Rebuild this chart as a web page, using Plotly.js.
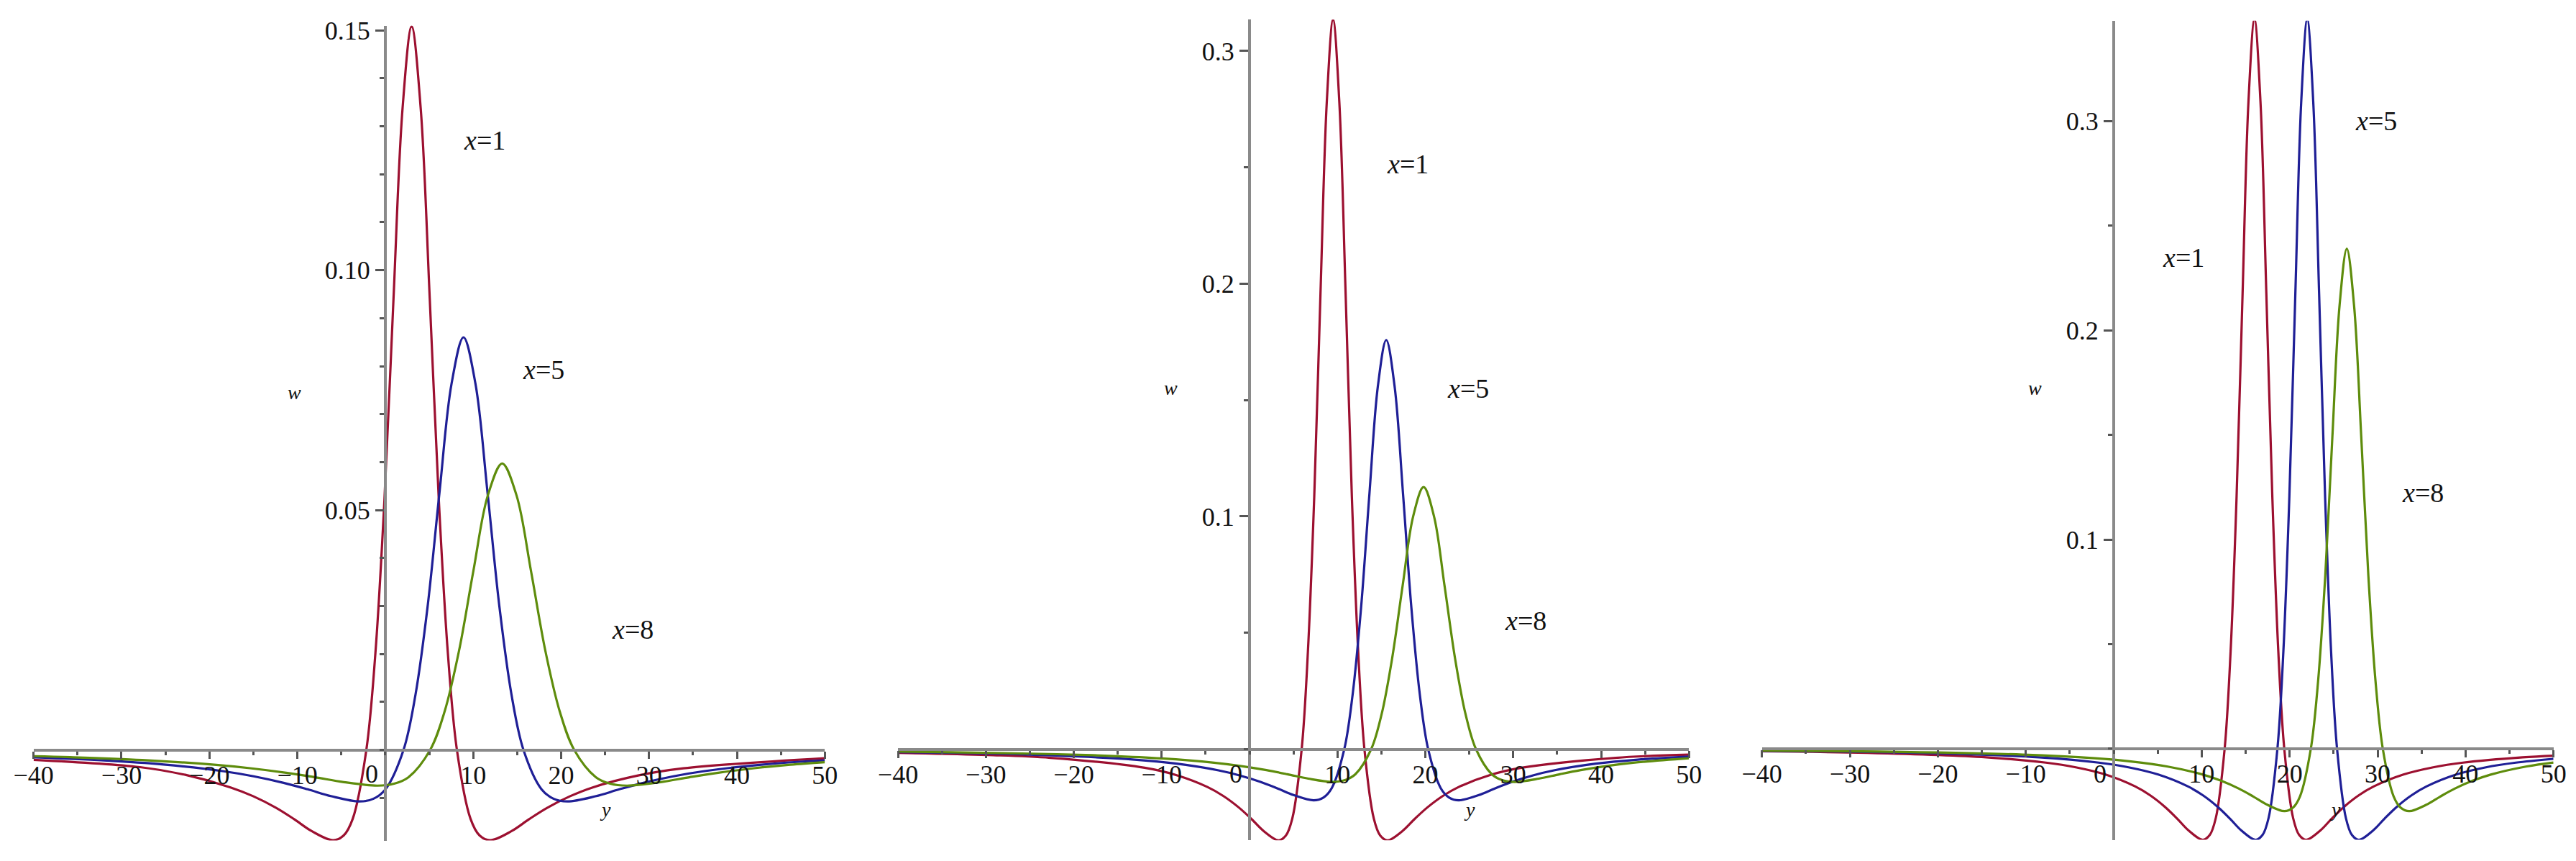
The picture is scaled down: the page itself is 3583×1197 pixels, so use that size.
<!DOCTYPE html>
<html>
<head>
<meta charset="utf-8">
<script src="https://cdn.plot.ly/plotly-3.0.1.min.js"></script>
<style>html,body{margin:0;padding:0;background:#fff;}#chart{width:3583px;height:1197px;}</style>
</head>
<body>
<div id="chart"></div>
<script>
// ---------- data ----------
const seriesNames = ["x=1", "x=5", "x=8"];
const xTickVals = [-40, -30, -20, -10, 10, 20, 30, 40, 50];
const xTickText = ["\u221240", "\u221230", "\u221220", "\u221210", "10", "20", "30", "40", "50"];
const p1TickVals = [0.05, 0.10, 0.15];
const p1TickText = ["0.05", "0.10", "0.15"];
const p23TickVals = [0.1, 0.2, 0.3];
const p23TickText = ["0.1", "0.2", "0.3"];

// panel 1
const p1_red_y = [-40, -27.9, -22.75, -17.6, -15.03, -12.45, -10.39, -8.33, -5.92, -4.73, -3.70, -2.15, -1.12, -0.09, 0.94, 1.97, 3.0, 4.03, 5.06, 6.09, 7.12, 8.15, 9.70, 10.73, 11.92, 14.33, 16.39, 18.45, 21.03, 23.6, 28.75, 33.9, 50];
const p1_red_w = [-0.00207, -0.0036, -0.0052, -0.007827, -0.009663, -0.01206, -0.01442, -0.01698, -0.01885, -0.01785, -0.01438, 0, 0.02018, 0.05218, 0.09414, 0.1338, 0.1508, 0.1338, 0.09414, 0.05218, 0.02018, 0, -0.01438, -0.01785, -0.01885, -0.01698, -0.01442, -0.01206, -0.009663, -0.007827, -0.005353, -0.003856, -0.001747];
const p1_blue_y = [-40, -32.02, -25.2, -18.38, -14.97, -11.56, -8.83, -6.10, -2.91, -1.33, 0.03, 2.08, 3.44, 4.81, 6.17, 7.54, 8.9, 10.26, 11.63, 12.99, 14.36, 15.72, 17.77, 19.13, 20.71, 23.90, 26.63, 29.36, 32.77, 36.18, 43.0, 50];
const p1_blue_w = [-0.001578, -0.002199, -0.003053, -0.004463, -0.005511, -0.00688, -0.008226, -0.009684, -0.01075, -0.01018, -0.0082, 0, 0.01151, 0.02976, 0.05369, 0.07633, 0.086, 0.07633, 0.05369, 0.02976, 0.01151, 0, -0.0082, -0.01018, -0.01075, -0.009684, -0.008226, -0.00688, -0.005511, -0.004463, -0.003053, -0.002181];
const p1_green_y = [-40, -35.84, -27.65, -19.46, -15.37, -11.27, -7.99, -4.72, -0.89, 1.01, 2.65, 5.11, 6.75, 8.39, 10.02, 11.66, 13.3, 14.94, 16.58, 18.21, 19.85, 21.49, 23.95, 25.59, 27.49, 31.32, 34.59, 37.87, 41.97, 46.06, 50];
const p1_green_w = [-0.001314, -0.001527, -0.002119, -0.003098, -0.003826, -0.004776, -0.00571, -0.006722, -0.007463, -0.007065, -0.005692, 0, 0.007988, 0.02066, 0.03727, 0.05299, 0.0597, 0.05299, 0.03727, 0.02066, 0.007988, 0, -0.005692, -0.007065, -0.007463, -0.006722, -0.00571, -0.004776, -0.003826, -0.003098, -0.002563];

// panel 2
const p2_red_y = [-40, -29.79, -22.65, -11.93, -8.36, -4.79, -3.0, -1.22, 0.21, 1.64, 3.31, 4.14, 4.86, 5.93, 6.64, 7.36, 8.07, 8.79, 9.5, 10.21, 10.93, 11.64, 12.36, 13.07, 14.14, 14.86, 15.69, 17.36, 18.79, 20.22, 22.0, 23.79, 27.36, 30.93, 41.65, 50];
const p2_red_w = [-0.001607, -0.002527, -0.003731, -0.008016, -0.01113, -0.01627, -0.02009, -0.02508, -0.02999, -0.0353, -0.03919, -0.0371, -0.02989, 0, 0.04195, 0.1085, 0.1957, 0.2783, 0.3135, 0.2783, 0.1957, 0.1085, 0.04195, 0, -0.02989, -0.0371, -0.03919, -0.0353, -0.02999, -0.02508, -0.02009, -0.01627, -0.01113, -0.008016, -0.003731, -0.002383];
const p2_blue_y = [-40, -27.38, -13.07, -8.30, -3.53, -1.15, 1.24, 3.15, 5.06, 7.29, 8.40, 9.35, 10.78, 11.73, 12.69, 13.64, 14.60, 15.55, 16.50, 17.46, 18.41, 19.37, 20.32, 21.75, 22.71, 23.81, 26.04, 27.95, 29.86, 32.25, 34.63, 39.4, 44.17, 50];
const p2_blue_w = [-0.001268, -0.002092, -0.004495, -0.006241, -0.009124, -0.01127, -0.01406, -0.01682, -0.0198, -0.02198, -0.0208, -0.01676, 0, 0.02352, 0.06083, 0.1098, 0.156, 0.1758, 0.156, 0.1098, 0.06083, 0.02352, 0, -0.01676, -0.0208, -0.02198, -0.0198, -0.01682, -0.01406, -0.01127, -0.009124, -0.006241, -0.004495, -0.003183];
const p2_green_y = [-40, -33.84, -21.92, -15.96, -10.0, -4.04, -1.06, 1.92, 4.30, 6.69, 9.48, 10.86, 12.05, 13.84, 15.03, 16.22, 17.42, 18.61, 19.8, 20.99, 22.18, 23.38, 24.57, 25.76, 27.55, 28.74, 30.12, 32.91, 35.30, 37.68, 40.66, 43.64, 50];
const p2_green_w = [-0.001086, -0.00134, -0.002162, -0.002879, -0.003997, -0.005844, -0.007215, -0.009008, -0.01077, -0.01268, -0.01408, -0.01333, -0.01074, 0, 0.01507, 0.03896, 0.0703, 0.09994, 0.1126, 0.09994, 0.0703, 0.03896, 0.01507, 0, -0.01074, -0.01333, -0.01408, -0.01268, -0.01077, -0.009008, -0.007215, -0.005844, -0.003905];

// panel 3
const p3_red_y = [-40, -28.03, -14.48, -7.71, -4.32, -0.94, 2.45, 4.15, 5.84, 7.19, 8.55, 10.13, 10.92, 11.60, 12.61, 13.29, 13.97, 14.65, 15.32, 16.0, 16.68, 17.35, 18.03, 18.71, 19.39, 20.40, 21.08, 21.87, 23.45, 24.81, 26.16, 27.85, 29.55, 32.94, 36.32, 39.71, 46.48, 50];
const p3_red_w = [-0.001262, -0.002027, -0.00415, -0.006695, -0.008916, -0.01238, -0.0181, -0.02234, -0.0279, -0.03335, -0.03926, -0.04359, -0.04127, -0.03325, 0, 0.04666, 0.1207, 0.2177, 0.3095, 0.3487, 0.3095, 0.2177, 0.1207, 0.04666, 0, -0.03325, -0.04127, -0.04359, -0.03926, -0.03335, -0.0279, -0.02234, -0.0181, -0.01238, -0.008916, -0.006695, -0.00415, -0.003359];
const p3_blue_y = [-40, -22.03, -8.48, -1.71, 1.68, 5.06, 8.45, 10.15, 11.84, 13.19, 14.55, 16.13, 16.92, 17.60, 18.61, 19.29, 19.97, 20.65, 21.32, 22.0, 22.68, 23.35, 24.03, 24.71, 25.39, 26.40, 27.08, 27.87, 29.45, 30.81, 32.16, 33.85, 35.55, 38.94, 42.32, 45.71, 50];
const p3_blue_w = [-0.001031, -0.002027, -0.00415, -0.006695, -0.008916, -0.01238, -0.0181, -0.02234, -0.0279, -0.03335, -0.03926, -0.04359, -0.04127, -0.03325, 0, 0.04666, 0.1207, 0.2177, 0.3095, 0.3487, 0.3095, 0.2177, 0.1207, 0.04666, 0, -0.03325, -0.04127, -0.04359, -0.03926, -0.03335, -0.0279, -0.02234, -0.0181, -0.01238, -0.008916, -0.006695, -0.004884];
const p3_green_y = [-40, -26.68, -10.32, -2.14, 1.95, 6.04, 10.14, 12.18, 14.23, 15.86, 17.50, 19.41, 20.36, 21.18, 22.41, 23.23, 24.05, 24.86, 25.68, 26.5, 27.32, 28.14, 28.95, 29.77, 30.59, 31.82, 32.64, 33.59, 35.50, 37.14, 38.77, 40.82, 42.86, 46.96, 50];
const p3_green_w = [-0.000894, -0.001389, -0.002844, -0.004589, -0.006111, -0.008485, -0.0124, -0.01532, -0.01912, -0.02286, -0.02691, -0.02988, -0.02828, -0.02279, 0, 0.03198, 0.0827, 0.1492, 0.2121, 0.239, 0.2121, 0.1492, 0.0827, 0.03198, 0, -0.02279, -0.02828, -0.02988, -0.02691, -0.02286, -0.01912, -0.01532, -0.0124, -0.008485, -0.006616];

// ---------- styling ----------
const W = 3583, H = 1197;
const colors = ["#9c1030", "#1f1f96", "#5e8c0c"];
const FONT = "Liberation Serif";
const TXT = "#111111";
const axisGray = "#8a8a8a";
const tickGray = "#555555";
const px = v => v / W;            // horizontal pixel -> paper
const py = v => 1 - v / H;        // vertical pixel -> paper

const panels = [
  {xs: [p1_red_y, p1_blue_y, p1_green_y], ws: [p1_red_w, p1_blue_w, p1_green_w],
   xdom: [46.7, 1147.3], ydom: [1168.5, 35.6], yrange: [-0.0189, 0.151], x0: 535.9, y0: 1042.5,
   tv: p1TickVals, tt: p1TickText, minor: 0.01,
   labels: [[673.5, 195], [756, 514], [880, 875]], wlab: [409, 545], ylab: [842, 1125], zero: [516.6, 1076]},
  {xs: [p2_red_y, p2_blue_y, p2_green_y], ws: [p2_red_w, p2_blue_w, p2_green_w],
   xdom: [1249, 2349.3], ydom: [1168.3, 27.3], yrange: [-0.0392, 0.3135], x0: 1738, y0: 1041.5,
   tv: p23TickVals, tt: p23TickText, minor: 0.05,
   labels: [[1957.6, 228], [2041.8, 540], [2122, 863]], wlab: [1628.6, 539.5], ylab: [2044, 1125], zero: [1718.9, 1076]},
  {xs: [p3_red_y, p3_blue_y, p3_green_y], ws: [p3_red_w, p3_blue_w, p3_green_w],
   xdom: [2450.7, 3551.7], ydom: [1167.6, 28.8], yrange: [-0.0436, 0.348], x0: 2940, y0: 1040.8,
   tv: p23TickVals, tt: p23TickText, minor: 0.05,
   labels: [[3037.3, 358], [3305.2, 168.4], [3370.2, 685]], wlab: [2830.7, 539.5], ylab: [3247.8, 1125], zero: [2921, 1076]}
];

const data = [];
const layout = {
  width: W, height: H,
  margin: {l: 0, r: 0, t: 0, b: 0, pad: 0},
  paper_bgcolor: "#ffffff", plot_bgcolor: "rgba(0,0,0,0)",
  showlegend: false,
  font: {family: FONT, size: 36, color: TXT},
  annotations: []
};

panels.forEach((p, i) => {
  const n = i === 0 ? "" : String(i + 1);
  layout["xaxis" + n] = {
    domain: [px(p.xdom[0]), px(p.xdom[1])], range: [-40, 50],
    anchor: "free", position: py(p.y0), side: "bottom",
    showline: true, linecolor: axisGray, linewidth: 4,
    showgrid: false, zeroline: false,
    ticks: "outside", ticklen: 10, tickwidth: 3, tickcolor: tickGray,
    tickmode: "array", tickvals: xTickVals, ticktext: xTickText, ticklabelstandoff: -8,
    tickfont: {family: FONT, size: 36, color: TXT},
    minor: {tickmode: "linear", tick0: 0, dtick: 5, ticks: "outside", ticklen: 5, tickwidth: 3, tickcolor: tickGray, showgrid: false},
    fixedrange: true
  };
  layout["yaxis" + n] = {
    domain: [py(p.ydom[0]), py(p.ydom[1])], range: p.yrange,
    anchor: "free", position: px(p.x0), side: "left",
    showline: true, linecolor: axisGray, linewidth: 4,
    showgrid: false, zeroline: false,
    ticks: "outside", ticklen: 12, tickwidth: 3, tickcolor: tickGray,
    tickmode: "array", tickvals: p.tv, ticktext: p.tt,
    tickfont: {family: FONT, size: 36, color: TXT},
    minor: {tickmode: "linear", tick0: 0, dtick: p.minor, ticks: "outside", ticklen: 6, tickwidth: 3, tickcolor: tickGray, showgrid: false},
    fixedrange: true
  };
  for (let k = 0; k < 3; k++) {
    data.push({
      type: "scatter", mode: "lines", name: seriesNames[k],
      x: p.xs[k], y: p.ws[k],
      xaxis: "x" + n, yaxis: "y" + n,
      line: {color: colors[k], width: 3.2, shape: "spline", smoothing: 1},
      hoverinfo: "skip"
    });
  }
  p.labels.forEach((pos, k) => {
    layout.annotations.push({
      xref: "paper", yref: "paper", x: px(pos[0]), y: py(pos[1]),
      xanchor: "center", yanchor: "middle", showarrow: false,
      text: "<i>x</i>=" + seriesNames[k].split("=")[1],
      font: {family: FONT, size: 38, color: TXT}
    });
  });
  layout.annotations.push({
    xref: "paper", yref: "paper", x: px(p.wlab[0]), y: py(p.wlab[1]),
    xanchor: "center", yanchor: "middle", showarrow: false,
    text: "<i>w</i>", font: {family: FONT, size: 28, color: TXT}
  });
  layout.annotations.push({
    xref: "paper", yref: "paper", x: px(p.ylab[0]), y: py(p.ylab[1]),
    xanchor: "center", yanchor: "middle", showarrow: false,
    text: "<i>y</i>", font: {family: FONT, size: 28, color: TXT}
  });
  layout.annotations.push({
    xref: "paper", yref: "paper", x: px(p.zero[0]), y: py(p.zero[1]),
    xanchor: "center", yanchor: "middle", showarrow: false,
    text: "0", font: {family: FONT, size: 36, color: TXT}
  });
});

Plotly.newPlot("chart", data, layout, {staticPlot: true, displayModeBar: false});
</script>
</body>
</html>
